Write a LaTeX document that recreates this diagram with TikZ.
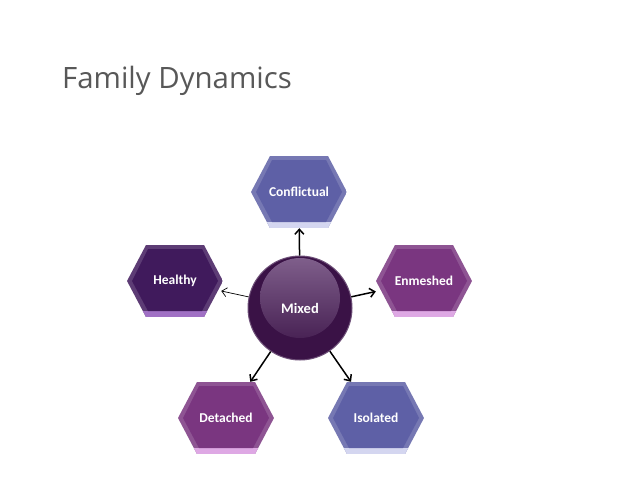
\documentclass[tikz,border=0pt]{standalone}
\usepackage{fontspec}
\setmainfont{Carlito}
\newfontfamily\titlefont{Open Sans}
\usetikzlibrary{arrows.meta}
\definecolor{titlegray}{RGB}{88,88,88}
\definecolor{slate}{RGB}{94,96,166}
\definecolor{slateL}{RGB}{212,214,240}
\definecolor{deep}{RGB}{64,26,92}
\definecolor{deepL}{RGB}{160,112,196}
\definecolor{plum}{RGB}{122,54,128}
\definecolor{plumL}{RGB}{222,168,228}
\definecolor{mixbase}{RGB}{58,18,70}
\definecolor{mixhi}{RGB}{128,96,140}
\definecolor{mixrim}{RGB}{110,80,120}

\begin{document}
\begin{tikzpicture}[
  x=1pt, y=-1pt,
  hexa/.style 2 args={rectangle, minimum width=96pt, minimum height=72pt, inner sep=0pt, text=white,
    font=\bfseries\fontsize{13.5}{15}\selectfont,
    path picture={
      \path (path picture bounding box.south west) coordinate (sw)
            (path picture bounding box.north east) coordinate (ne)
            (path picture bounding box.west) coordinate (w)
            (path picture bounding box.east) coordinate (e);
      \begin{scope}
        \clip (w) -- ([xshift=19pt]sw |- ne) -- ([xshift=-19pt]ne) -- (e)
          -- ([xshift=-19pt]sw -| ne) -- ([xshift=19pt]sw) -- cycle;
        \fill[#1!85!white] (sw) rectangle (ne);
        \fill[#2] (sw) rectangle ([yshift=6pt]sw -| ne);
      \end{scope}
      \fill[#1] ([xshift=5pt]w) -- ([xshift=21pt,yshift=-4pt]sw |- ne) -- ([xshift=-21pt,yshift=-4pt]ne)
        -- ([xshift=-5pt]e) -- ([xshift=-21pt,yshift=6pt]sw -| ne) -- ([xshift=21pt,yshift=6pt]sw) -- cycle;
    }},
  arr/.style={-{Straight Barb[length=5pt,width=9pt]}, line width=1.5pt},
]
\fill[white] (0,0) rectangle (638,479);
\useasboundingbox (0,0) rectangle (638,479);

\node[anchor=base west, inner sep=0pt, text=titlegray, font=\titlefont\fontsize{29.4}{33}\selectfont] (title) at (62,88) {Family Dynamics};

% centre
\node[circle, minimum size=104pt, fill=mixbase, draw=mixrim, line width=1pt, text=white,
  font=\bfseries\fontsize{14.5}{16}\selectfont,
  path picture={\shade[top color=mixhi, bottom color=mixbase] ([yshift=10pt]path picture bounding box.center) circle (40pt);}] (mix) at (300,308) {Mixed};

% outer states
\node[hexa={slate}{slateL}] (conf) at (299,192) {Conflictual};
\node[hexa={deep}{deepL}] (heal) at (175,281) {Healthy};
\node[hexa={plum}{plumL}] (enm) at (424,281) {Enmeshed};
\node[hexa={plum}{plumL}] (det) at (226,418) {Detached};
\node[hexa={slate}{slateL}] (iso) at (376,418) {Isolated};

\draw[arr] (mix) -- (conf);
\draw[arr, line width=0.7pt, shorten >=-2pt] (mix) -- (heal);
\draw[arr] (mix) -- (enm);
\draw[arr] (mix) -- (det);
\draw[arr] (mix) -- (iso);
\end{tikzpicture}
\end{document}
